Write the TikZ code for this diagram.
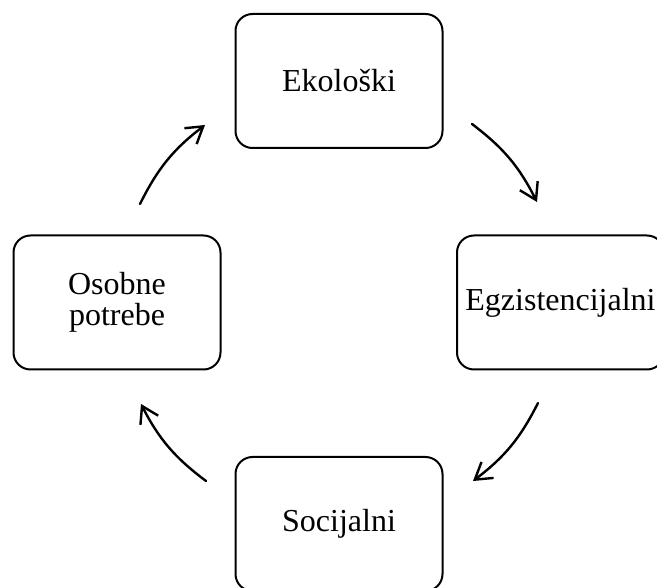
\documentclass[tikz,border=0pt]{standalone}
\usepackage{fontspec}
\setmainfont{Liberation Serif}
\usetikzlibrary{arrows.meta}
\begin{document}
\begin{tikzpicture}[x=1pt,y=-1pt,
  box/.style={draw, line width=2pt, rounded corners=17pt, minimum width=207pt, minimum height=134pt, align=center, inner sep=0pt, font=\fontsize{32}{31}\selectfont},
  cyc/.style={line width=2.4pt, line cap=round, -{Straight Barb[length=16pt,width=20pt,line width=2.4pt]}}]
\clip (0,0) rectangle (657,588);
\node[box] (eko) at (339,81) {Ekološki};
\node[box] (egz) at (560.5,302.5) {Egzistencijalni};
\node[box] (soc) at (339,524) {Socijalni};
\node[box] (oso) at (117,302.5) {Osobne\\potrebe};
\coordinate (a1s) at (140,204);
\coordinate (a1e) at (205,125);
\coordinate (a2s) at (472,124);
\coordinate (a2e) at (537,202);
\coordinate (a3s) at (538,403);
\coordinate (a3e) at (473,481);
\coordinate (a4s) at (206,481);
\coordinate (a4e) at (141,404);
\draw[cyc] (a1s) to[bend left=13] (a1e);
\draw[cyc] (a2s) to[bend left=13] (a2e);
\draw[cyc] (a3s) to[bend left=13] (a3e);
\draw[cyc] (a4s) to[bend left=13] (a4e);
\end{tikzpicture}
\end{document}
